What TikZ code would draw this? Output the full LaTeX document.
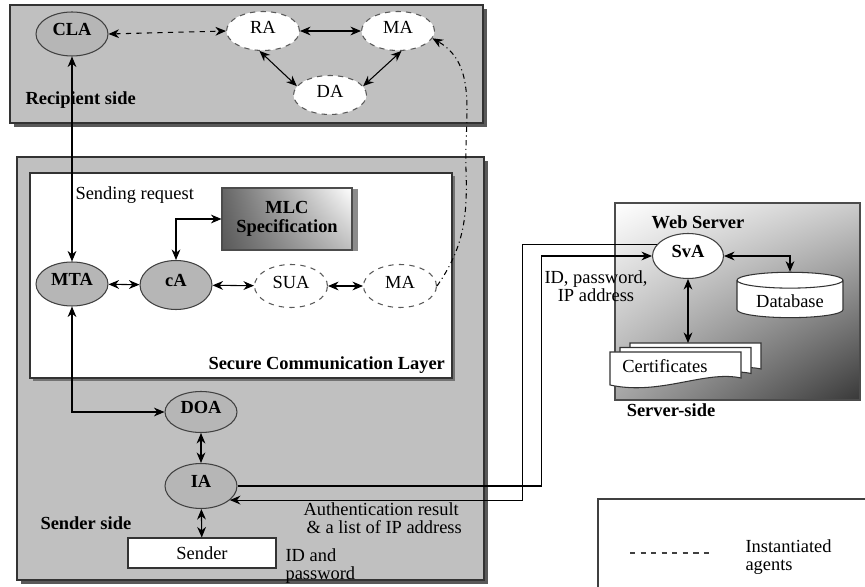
\documentclass[tikz,border=0pt]{standalone}
\usepackage{fontspec}
\setmainfont{Liberation Serif}
\usetikzlibrary{arrows.meta,shapes.geometric,shadings}
\definecolor{panel}{RGB}{192,192,192}
\definecolor{agentgray}{RGB}{182,182,182}
\begin{document}
\begin{tikzpicture}[x=0.02cm, y=-0.02cm, >={Stealth[length=6pt,width=5pt]}, line width=0.6pt,
    font=\fontsize{10.5}{10.5}\selectfont,
    agent/.style={ellipse, draw=black!75, fill=agentgray, minimum width=1.44cm, minimum height=0.88cm, inner sep=0pt,
        text height=0.25cm, text depth=0.2cm, font=\fontsize{10.5}{10.5}\selectfont\bfseries},
    newagent/.style={ellipse, draw=black!65, dashed, fill=white, minimum width=1.46cm, minimum height=0.78cm, inner sep=0pt,
        text height=0.25cm, text depth=0.14cm},
    sidelabel/.style={anchor=west, inner sep=0pt, font=\fontsize{10.5}{10.5}\selectfont\bfseries},
    note/.style={inner sep=0pt, align=left}]
    % page
    \fill[white] (0,0) rectangle (865,587);
    \clip (0,0) rectangle (865,587);
    % Recipient side
    \fill[black!65] (14,9) rectangle (487,127);
    \draw[black!80, fill=panel] (10,5) rectangle (483,123);
    \node[agent] (CLA) at (72,34) {CLA};
    \node[newagent] (RA) at (263,31) {RA};
    \node[newagent] (MA1) at (398,31) {MA};
    \node[newagent] (DA) at (330,95) {DA};
    \node[sidelabel] (recipient) at (25,100) {Recipient side};
    \draw[<->, dashed] (CLA.east) -- (RA.west);
    \draw[<->] (RA.east) -- (MA1.west);
    \draw[<->] (RA.-100) -- (DA.165);
    \draw[<->] (DA.15) -- (MA1.-80);
    % Sender side
    \fill[black!65] (21,161) rectangle (488,584);
    \draw[black!80, fill=panel] (17,157) rectangle (484,580);
    \fill[black!55] (33,176) rectangle (455,381);
    \draw[black!80, fill=white] (30,173) rectangle (452,378);
    \node[sidelabel] (layer) at (208,365) {Secure Communication Layer};
    \node[anchor=west, inner sep=0pt] (request) at (75,195) {Sending request};
    \node[draw=black!70, minimum width=2.6cm, minimum height=1.24cm, align=center,
        upper left=black!60, lower left=black!65, upper right=white, lower right=black!25,
        font=\fontsize{10.5}{11}\selectfont\bfseries] (MLC) at (287,219) {MLC\\Specification};
    \draw[black!45, line width=2.5pt] ([xshift=1.8pt,yshift=-1pt]MLC.north east) -- ([xshift=1.8pt]MLC.south east);
    \node[agent] (MTA) at (72,284) {MTA};
    \node[agent, minimum height=0.98cm] (cA) at (176,285) {cA};
    \node[newagent, minimum height=0.86cm] (SUA) at (291,286) {SUA};
    \node[newagent, minimum height=0.86cm] (MA2) at (400,286) {MA};
    \node[agent, minimum height=0.82cm] (DOA) at (201,412) {DOA};
    \node[agent, minimum height=0.9cm] (IA) at (201,486) {IA};
    \node[draw=black!80, fill=white, minimum width=2.96cm, minimum height=0.6cm] (Sender) at (202,553) {Sender};
    \node[sidelabel] (senderside) at (40,523) {Sender side};
    \node[note, anchor=north west] (idpw) at (285,548) {ID and\\password};
    \node[note, anchor=north west] (authres) at (303,502) {Authentication result\\ \,\& a list of IP address};
    \draw[<->] (CLA.south) -- (MTA.north);
    \draw[<->] (MTA) -- (cA);
    \draw[<->] (cA) -- (SUA);
    \draw[<->] (SUA) -- (MA2);
    \draw[<->] (cA.north) |- (MLC.west);
    \draw[<->] (MTA.south) |- (DOA.west);
    \draw[<->] (DOA) -- (IA);
    \draw[<->] (IA) -- (Sender);
    \draw[->, dash dot] (MA2.east) to[out=55,in=-88] (466,170) to[out=92,in=-30] (MA1.-12);
    % Server side
    \shade[upper left=white, upper right=black!20, lower left=black!35, lower right=black!78] (615,203) rectangle (860,400);
    \draw[black!70] (615,203) rectangle (860,400);
    \node[font=\fontsize{10.5}{10.5}\selectfont\bfseries] (webserver) at (698,222) {Web Server};
    \node[font=\fontsize{10.5}{10.5}\selectfont\bfseries] (serverside) at (671,410) {Server-side};
    \node[ellipse, draw=black!75, fill=white, minimum width=1.42cm, minimum height=0.9cm, inner sep=0pt,
        text height=0.25cm, text depth=0.2cm, font=\fontsize{10.5}{10.5}\selectfont\bfseries] (SvA) at (688,256) {SvA};
    \node[cylinder, shape border rotate=90, aspect=0.2, draw=black!80, fill=white,
        minimum width=2.12cm, minimum height=0.86cm] (Database) at (790,301) {Database};
    \coordinate (certtop) at (688,343);
    \foreach \d in {2,1,0} {
        \begin{scope}[shift={(10*\d,-4.5*\d)}]
            \draw[black!80, fill=white] (610,352) -- (741,352) -- (741,378)
                .. controls (705,370) and (660,396) .. (610,385) -- cycle;
        \end{scope}
    }
    \node[anchor=west] (certs) at (616,366) {Certificates};
    \draw[<->] (SvA.east) -| (Database.north);
    \draw[<->] (SvA.south) -- (certtop);
    \node[note, align=center] (idpwip) at (596,286) {ID, password,\\IP address};
    % messages between IA and SvA
    \draw[->] (IA.east) -- ++(304,0) |- (SvA.west);
    \draw[->] (SvA.160) -- ++(-134,0) |- (IA.-26);
    % legend
    \draw[black!75] (598,600) -- (598,499) -- (880,499);
    \coordinate (dashstart) at (630,553);
    \coordinate (dashend) at (713,553);
    \draw[dashed, black!75] (dashstart) -- (dashend);
    \node[note, anchor=west] (legendtext) at (745,557) {Instantiated\\agents};
\end{tikzpicture}
\end{document}
